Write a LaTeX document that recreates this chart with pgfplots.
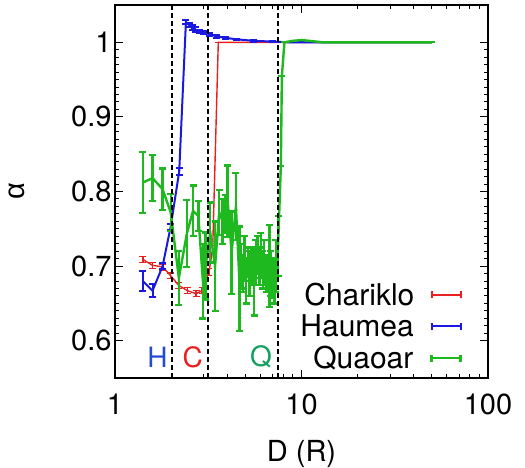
\documentclass[border=0pt]{standalone}
\usepackage{fontspec}
\setmainfont{TeX Gyre Heros}
\newfontfamily\grfont{Liberation Sans}
\usepackage{pgfplots}
\pgfplotsset{compat=1.18}
\definecolor{cred}{RGB}{232,32,32}
\definecolor{cblue}{RGB}{25,25,225}
\definecolor{cgreen}{RGB}{30,185,30}
\definecolor{qgreen}{RGB}{20,160,95}
\definecolor{hblue}{RGB}{35,75,215}

\newcommand{\sample}[2]{\hspace{17pt}\tikz[baseline={(0pt,-10.5pt)}]{%
  \draw[#1,line width=#2] (0pt,0pt)--(29pt,0pt);
  \draw[#1,line width=#2] (0pt,-3.5pt)--(0pt,3.5pt);
  \draw[#1,line width=#2] (29pt,-3.5pt)--(29pt,3.5pt);}}

\pgfplotstableread{
x y e
1.41 0.709 0.004
1.59 0.701 0.004
1.80 0.699 0.004
1.99 0.687 0.004
2.20 0.674 0.004
2.45 0.667 0.004
2.72 0.663 0.004
2.93 0.667 0.004
3.19 0.692 0.005
3.34 0.723 0.005
3.58 1.000 0.000
4.5 1.000 0.000
7 1.000 0.000
10 1.000 0.000
20 1.000 0.000
50 1.000 0.000
}\chariklo

\pgfplotstableread{
x y e
1.41 0.680 0.013
1.59 0.667 0.009
1.80 0.700 0.004
1.99 0.753 0.004
2.21 0.827 0.005
2.40 1.027 0.003
2.50 1.023 0.003
2.60 1.020 0.003
2.70 1.017 0.003
2.85 1.015 0.002
3.00 1.013 0.002
3.20 1.011 0.002
3.50 1.008 0.002
3.90 1.006 0.001
4.50 1.004 0.001
5.50 1.002 0.001
7.00 1.001 0.001
8.50 1.000 0.000
10 1.000 0.000
20 1.000 0.000
50 1.000 0.000
}\haumea

\pgfplotstableread{
x y e
1.41 0.812 0.041
1.59 0.818 0.031
1.80 0.803 0.028
1.99 0.772 0.025
2.20 0.684 0.036
2.43 0.744 0.045
2.62 0.774 0.034
2.80 0.767 0.020
2.96 0.680 0.050
3.06 0.700 0.045
3.24 0.745 0.040
3.44 0.700 0.060
3.62 0.772 0.030
3.78 0.760 0.030
3.90 0.770 0.025
4.02 0.787 0.048
4.22 0.718 0.055
4.45 0.780 0.045
4.64 0.683 0.070
4.75 0.700 0.030
4.84 0.690 0.025
4.95 0.710 0.030
5.04 0.680 0.030
5.15 0.705 0.020
5.25 0.690 0.030
5.40 0.700 0.025
5.58 0.679 0.045
5.70 0.705 0.030
5.81 0.715 0.025
5.95 0.700 0.025
6.06 0.714 0.030
6.20 0.695 0.025
6.31 0.705 0.030
6.50 0.690 0.025
6.72 0.700 0.055
6.85 0.690 0.030
7.00 0.683 0.025
7.15 0.680 0.030
7.29 0.700 0.035
7.49 0.727 0.040
7.75 0.834 0.000
7.85 0.955 0.000
8.10 1.000 0.000
9.0 1.002 0.000
10 1.003 0.000
11 1.002 0.000
13 1.000 0.000
20 1.000 0.000
30 1.000 0.000
50 1.000 0.000
}\quaoar

\begin{document}
\begin{tikzpicture}
\useasboundingbox (-115pt,-90pt) rectangle (410pt,378pt);
\begin{axis}[
  scale only axis, width=373pt, height=373pt,
  xmode=log, xmin=1, xmax=100, ymin=0.55, ymax=1.05,
  xtick={1,10,100}, xticklabels={1,10,100},
  ytick={0.6,0.7,0.8,0.9,1}, yticklabels={0.6,0.7,0.8,0.9,1},
  minor y tick num=9,
  tick align=inside,
  major tick length=8pt, minor tick length=4pt,
  axis line style={line width=1.6pt},
  every tick/.style={black, line width=1pt},
  tick label style={font=\fontsize{29}{34}\selectfont},
  xticklabel style={yshift=-12pt},
  label style={font=\fontsize{29}{34}\selectfont},
  xlabel={D (R)}, ylabel={\grfont α},
  xlabel style={at={(axis description cs:0.5,-0.205)}, anchor=center},
  ylabel style={at={(axis description cs:-0.262,0.5)}, anchor=center},
  legend plot pos=right,
  legend cell align=right,
  legend image code/.code={},
  legend style={draw=none, fill=none, at={(rel axis cs:0.933,0.018)}, anchor=south east,
    font=\fontsize{30}{33}\selectfont, row sep=6pt, inner sep=0pt, column sep=0pt,
    nodes={inner sep=1pt}},
]
\addplot[cred, line width=1.4pt, mark=none,
  error bars/y dir=both, error bars/y explicit,
  error bars/error bar style={line width=1.4pt},
  error bars/error mark options={rotate=90, line width=1.4pt, mark size=3.5pt}]
  table[x=x, y=y, y error=e] {\chariklo};
\addlegendentry{Chariklo\sample{cred}{1.4pt}}
\addplot[cblue, line width=2pt, mark=none,
  error bars/y dir=both, error bars/y explicit,
  error bars/error bar style={line width=2pt},
  error bars/error mark options={rotate=90, line width=2pt, mark size=3.5pt}]
  table[x=x, y=y, y error=e] {\haumea};
\addlegendentry{Haumea\sample{cblue}{2pt}}
\addplot[cgreen, line width=2.4pt, mark=none,
  error bars/y dir=both, error bars/y explicit,
  error bars/error bar style={line width=2.4pt},
  error bars/error mark options={rotate=90, line width=2.4pt, mark size=3.5pt}]
  table[x=x, y=y, y error=e] {\quaoar};
\addlegendentry{Quaoar\sample{cgreen}{2.4pt}}
\draw[black, line width=2pt, dash pattern=on 4.5pt off 3.5pt] (axis cs:2.03,0.55) -- (axis cs:2.03,1.05);
\draw[black, line width=2pt, dash pattern=on 4.5pt off 3.5pt] (axis cs:3.14,0.55) -- (axis cs:3.14,1.05);
\draw[black, line width=2pt, dash pattern=on 4.5pt off 3.5pt] (axis cs:7.5,0.55) -- (axis cs:7.5,1.05);
\node[text=hblue, font=\fontsize{28}{30}\selectfont] at (axis cs:1.69,0.578) {H};
\node[text=cred, font=\fontsize{28}{30}\selectfont] at (axis cs:2.61,0.578) {C};
\node[text=qgreen, font=\fontsize{28}{30}\selectfont] at (axis cs:6.07,0.578) {Q};
\end{axis}
\end{tikzpicture}
\end{document}
